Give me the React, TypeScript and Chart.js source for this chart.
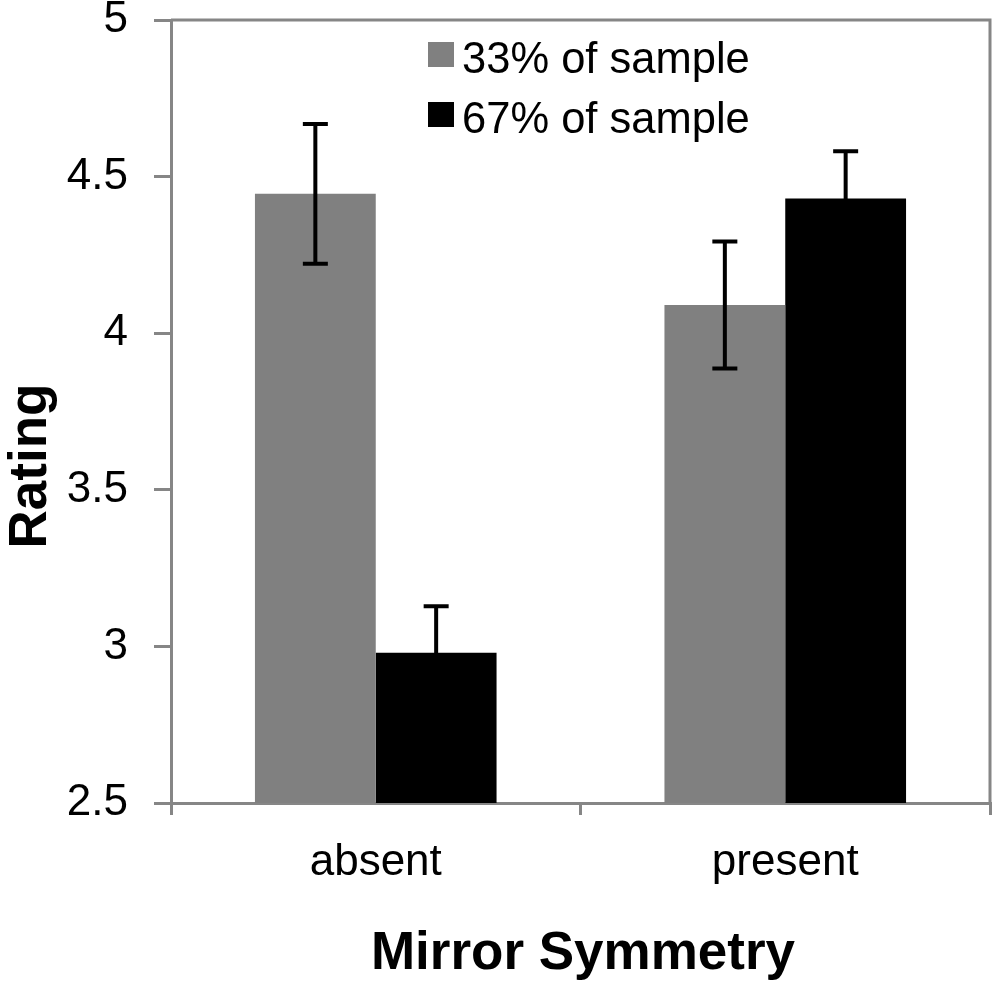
import React, { useRef, useEffect } from "react";
import Chart from "chart.js/auto";

const categories = ["absent", "present"];
const seriesLabels = ["33% of sample", "67% of sample"];
const values33 = [4.445, 4.09];
const values67 = [2.98, 4.43];
const errors33 = [0.223, 0.203];
const errors67 = [0.148, 0.151];
const yTicks = [2.5, 3, 3.5, 4, 4.5, 5];

const FONT = "'Liberation Sans', Arial, sans-serif";
const AXIS_GRAY = "#868686";

const errorsBySeries = [errors33, errors67];

const errorBarPlugin = {
  id: "errorBars",
  afterDatasetsDraw(chart: any) {
    const { ctx } = chart;
    const yScale = chart.scales.y;
    ctx.save();
    ctx.strokeStyle = "#000";
    ctx.lineWidth = 4;
    chart.data.datasets.forEach((ds: any, i: number) => {
      const meta = chart.getDatasetMeta(i);
      meta.data.forEach((bar: any, j: number) => {
        const v = ds.data[j];
        const e = errorsBySeries[i][j];
        const top = yScale.getPixelForValue(v + e);
        const bottom = yScale.getPixelForValue(v - e);
        const x = bar.x;
        ctx.beginPath();
        ctx.moveTo(x, top);
        ctx.lineTo(x, bottom);
        ctx.moveTo(x - 12.5, top);
        ctx.lineTo(x + 12.5, top);
        ctx.moveTo(x - 12.5, bottom);
        ctx.lineTo(x + 12.5, bottom);
        ctx.stroke();
      });
    });
    ctx.restore();
  },
};

const framePlugin = {
  id: "frame",
  afterDraw(chart: any) {
    const { ctx, chartArea } = chart;
    ctx.save();
    ctx.strokeStyle = AXIS_GRAY;
    ctx.lineWidth = 3;
    ctx.beginPath();
    ctx.moveTo(chartArea.left, chartArea.top);
    ctx.lineTo(chartArea.right, chartArea.top);
    ctx.lineTo(chartArea.right, chartArea.bottom);
    ctx.stroke();
    ctx.restore();
  },
};

const legendPlugin = {
  id: "insideLegend",
  afterDraw(chart: any) {
    const { ctx } = chart;
    ctx.save();
    ctx.font = `43.5px ${FONT}`;
    ctx.textAlign = "left";
    ctx.textBaseline = "alphabetic";
    chart.data.datasets.forEach((ds: any, i: number) => {
      const rowY = 42 + i * 60;
      ctx.fillStyle = ds.backgroundColor;
      ctx.fillRect(428, rowY, 26, 25);
      ctx.fillStyle = "#000";
      ctx.fillText(ds.label, 462, rowY + 31);
    });
    ctx.restore();
  },
};

const titlesPlugin = {
  id: "axisTitles",
  afterDraw(chart: any) {
    const { ctx } = chart;
    ctx.save();
    ctx.fillStyle = "#000";
    ctx.font = `bold 53px ${FONT}`;
    ctx.textAlign = "center";
    ctx.textBaseline = "alphabetic";
    ctx.fillText("Mirror Symmetry", 583, 969);
    ctx.translate(46, 466);
    ctx.rotate(-Math.PI / 2);
    ctx.fillText("Rating", 0, 0);
    ctx.restore();
  },
};

const App: React.FC = () => {
  const chartRef = useRef<HTMLCanvasElement | null>(null);

  useEffect(() => {
    document.body.style.margin = "0";

    const chartData = {
      labels: categories,
      datasets: [
        {
          label: seriesLabels[0],
          data: values33,
          backgroundColor: "#808080",
          categoryPercentage: 0.59,
          barPercentage: 1,
        },
        {
          label: seriesLabels[1],
          data: values67,
          backgroundColor: "#000000",
          categoryPercentage: 0.59,
          barPercentage: 1,
        },
      ],
    };

    const config: any = {
      type: "bar",
      data: chartData,
      plugins: [errorBarPlugin, framePlugin, legendPlugin, titlesPlugin],
      options: {
        responsive: true,
        maintainAspectRatio: false,
        animation: false,
        layout: { padding: { top: 20, right: 10, left: 0, bottom: 0 } },
        plugins: {
          legend: { display: false },
          tooltip: { enabled: false },
        },
        scales: {
          x: {
            afterFit: (scale: any) => {
              scale.height = 180;
              scale.paddingLeft = 0;
              scale.paddingRight = 0;
            },
            grid: {
              display: true,
              offset: true,
              drawOnChartArea: false,
              drawTicks: true,
              tickLength: 12,
              color: AXIS_GRAY,
              lineWidth: 3,
            },
            border: { display: true, color: AXIS_GRAY, width: 3 },
            ticks: {
              color: "#000",
              font: { family: FONT, size: 44 },
              padding: 21,
            },
          },
          y: {
            min: yTicks[0],
            max: yTicks[yTicks.length - 1],
            afterFit: (scale: any) => {
              scale.width = 171;
              scale.paddingTop = 0;
              scale.paddingBottom = 0;
            },
            afterBuildTicks: (scale: any) => {
              scale.ticks = yTicks.map((v) => ({ value: v }));
            },
            grid: {
              display: true,
              drawOnChartArea: false,
              drawTicks: true,
              tickLength: 17,
              color: AXIS_GRAY,
              lineWidth: 3,
            },
            border: { display: true, color: AXIS_GRAY, width: 3 },
            ticks: {
              color: "#000",
              font: { family: FONT, size: 44 },
              padding: 26,
              callback: (value: number) => String(value),
            },
          },
        },
      },
    };

    if (chartRef.current) {
      const myChart = new Chart(chartRef.current, config);
      return () => {
        myChart.destroy();
      };
    }
  }, []);

  return (
    <div style={{ width: "1000px", height: "983px", position: "relative" }}>
      <canvas ref={chartRef}></canvas>
    </div>
  );
};

export default App;
